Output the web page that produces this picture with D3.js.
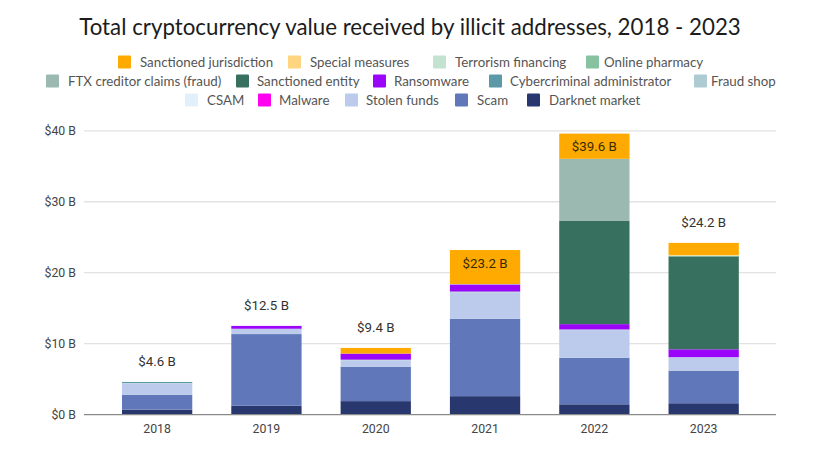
<!DOCTYPE html>
<html>
<head>
<meta charset="utf-8">
<script src="https://cdn.jsdelivr.net/npm/d3@7"></script>
<style>
  body { margin: 0; background: #fff; }
  svg { display: block; }
</style>
</head>
<body>
<svg width="835" height="455"></svg>
<script>
const years = ["2018", "2019", "2020", "2021", "2022", "2023"];
const categories = [
    "Darknet market", "Scam", "Stolen funds", "Malware", "CSAM", "Fraud shop",
    "Cybercriminal administrator", "Ransomware", "Sanctioned entity",
    "FTX creditor claims (fraud)", "Online pharmacy", "Terrorism financing",
    "Special measures", "Sanctioned jurisdiction"
];
const colors = [
    "#29376f", "#6077b9", "#bccbec", "#ff00f0", "#e1f0fa", "#aecbd4",
    "#5b98a8", "#9b05fa", "#37705f", "#9bb9b1", "#86c29f", "#c3e2d0",
    "#ffd67f", "#ffaa00"
];
const darknetMarket = [0.7, 1.25, 1.9, 2.6, 1.45, 1.6];
const scam = [2.1, 10.1, 4.85, 10.9, 6.55, 4.6];
const stolenFunds = [1.6, 0.75, 0.9, 3.7, 3.9, 1.9];
const malware = [0, 0, 0, 0, 0, 0];
const csam = [0, 0, 0, 0, 0, 0];
const fraudShop = [0.05, 0, 0.05, 0.1, 0.1, 0];
const cyberAdmin = [0.15, 0, 0.05, 0.05, 0, 0];
const ransomware = [0, 0.4, 0.85, 1.0, 0.75, 1.1];
const sanctionedEntity = [0, 0, 0, 0, 14.6, 13.1];
const ftxClaims = [0, 0, 0, 0, 8.7, 0];
const onlinePharmacy = [0, 0, 0, 0, 0, 0.1];
const terrorism = [0, 0, 0, 0.05, 0, 0];
const specialMeasures = [0, 0, 0, 0, 0, 0.1];
const sanctionedJurisdiction = [0, 0, 0.8, 4.8, 3.55, 1.7];
const totals = ["$4.6 B", "$12.5 B", "$9.4 B", "$23.2 B", "$39.6 B", "$24.2 B"];
const yTicks = [0, 10, 20, 30, 40];

const seriesValues = [
    darknetMarket, scam, stolenFunds, malware, csam, fraudShop, cyberAdmin,
    ransomware, sanctionedEntity, ftxClaims, onlinePharmacy, terrorism,
    specialMeasures, sanctionedJurisdiction
];

// legend layout, by row: [label, swatch x, text x]
const legendRows = [
    [["Sanctioned jurisdiction", 118, 140], ["Special measures", 288, 310], ["Terrorism financing", 433, 455], ["Online pharmacy", 586, 604]],
    [["FTX creditor claims (fraud)", 46, 68], ["Sanctioned entity", 236, 257], ["Ransomware", 373, 394], ["Cybercriminal administrator", 489, 510], ["Fraud shop", 694, 711]],
    [["CSAM", 185, 207], ["Malware", 258, 279], ["Stolen funds", 345, 366], ["Scam", 455, 477], ["Darknet market", 527, 549]]
];

const svg = d3.select("svg");
const color = d3.scaleOrdinal().domain(categories).range(colors);

const xScale = d3.scaleBand().domain(years).range([103.4, 757.4]).paddingInner(0.357).paddingOuter(0.17);
const yScale = d3.scaleLinear().domain([0, 40]).range([414.6, 130.8]);

// Title
svg.append("text")
    .attr("x", 410).attr("y", 35)
    .attr("text-anchor", "middle")
    .attr("font-family", "Lato")
    .attr("font-size", 22.3)
    .attr("fill", "#1c1c1c")
    .text("Total cryptocurrency value received by illicit addresses, 2018 - 2023");

// Legend
legendRows.forEach((row, i) => {
    const y = 62 + i * 19;
    row.forEach(([label, sx, tx]) => {
        svg.append("rect")
            .attr("x", sx).attr("y", y - 6.5)
            .attr("width", 13).attr("height", 13)
            .attr("rx", 1)
            .attr("fill", color(label));
        svg.append("text")
            .attr("x", tx).attr("y", y + 4.5)
            .attr("font-family", "Lato")
            .attr("font-size", 13.3)
            .attr("fill", "#555")
            .text(label);
    });
});

// Gridlines
svg.append("g").selectAll("line")
    .data(yTicks.slice(1))
    .enter().append("line")
    .attr("x1", 84).attr("x2", 776)
    .attr("y1", d => yScale(d)).attr("y2", d => yScale(d))
    .attr("stroke", "#e2e2e2")
    .attr("stroke-width", 1.3);

// Axes
const yAxis = svg.append("g")
    .attr("transform", "translate(84,0)")
    .call(d3.axisLeft(yScale).tickValues(yTicks).tickSize(0).tickPadding(8).tickFormat(d => `$${d} B`));
yAxis.select(".domain").remove();

const xAxis = svg.append("g")
    .attr("transform", "translate(0,414.6)")
    .call(d3.axisBottom(xScale).tickSize(0).tickPadding(10));
xAxis.select(".domain").remove();

svg.selectAll("g .tick text")
    .attr("font-family", "Roboto")
    .attr("font-size", 12.3)
    .attr("fill", "#444");

// Stacked bars
const rows = years.map((year, i) => {
    const row = { year };
    categories.forEach((c, j) => { row[c] = seriesValues[j][i]; });
    return row;
});
const stacked = d3.stack().keys(categories)(rows);

svg.append("g").selectAll("g")
    .data(stacked)
    .enter().append("g")
    .attr("fill", d => color(d.key))
    .selectAll("rect")
    .data(d => d.filter(p => p[1] > p[0]))
    .enter().append("rect")
    .attr("x", d => xScale(d.data.year))
    .attr("y", d => yScale(d[1]))
    .attr("width", xScale.bandwidth())
    .attr("height", d => yScale(d[0]) - yScale(d[1]));

// Baseline
svg.append("line")
    .attr("x1", 84).attr("x2", 776)
    .attr("y1", yScale(0)).attr("y2", yScale(0))
    .attr("stroke", "#8a8a8a")
    .attr("stroke-width", 1.3);

// Total labels, the two tallest sit inside the orange segment
const labelOffset = { "2018": 16, "2019": 16, "2020": 16, "2021": -17.6, "2022": -17.4, "2023": 16 };
svg.append("g").selectAll("text")
    .data(years)
    .enter().append("text")
    .attr("x", d => xScale(d) + xScale.bandwidth() / 2)
    .attr("y", (d, i) => yScale(d3.sum(seriesValues, s => s[i])) - labelOffset[d])
    .attr("text-anchor", "middle")
    .attr("font-family", "Roboto")
    .attr("font-size", 13.3)
    .attr("fill", (d, i) => i === 3 || i === 4 ? "#3a2a00" : "#333")
    .text((d, i) => totals[i]);
</script>
</body>
</html>
